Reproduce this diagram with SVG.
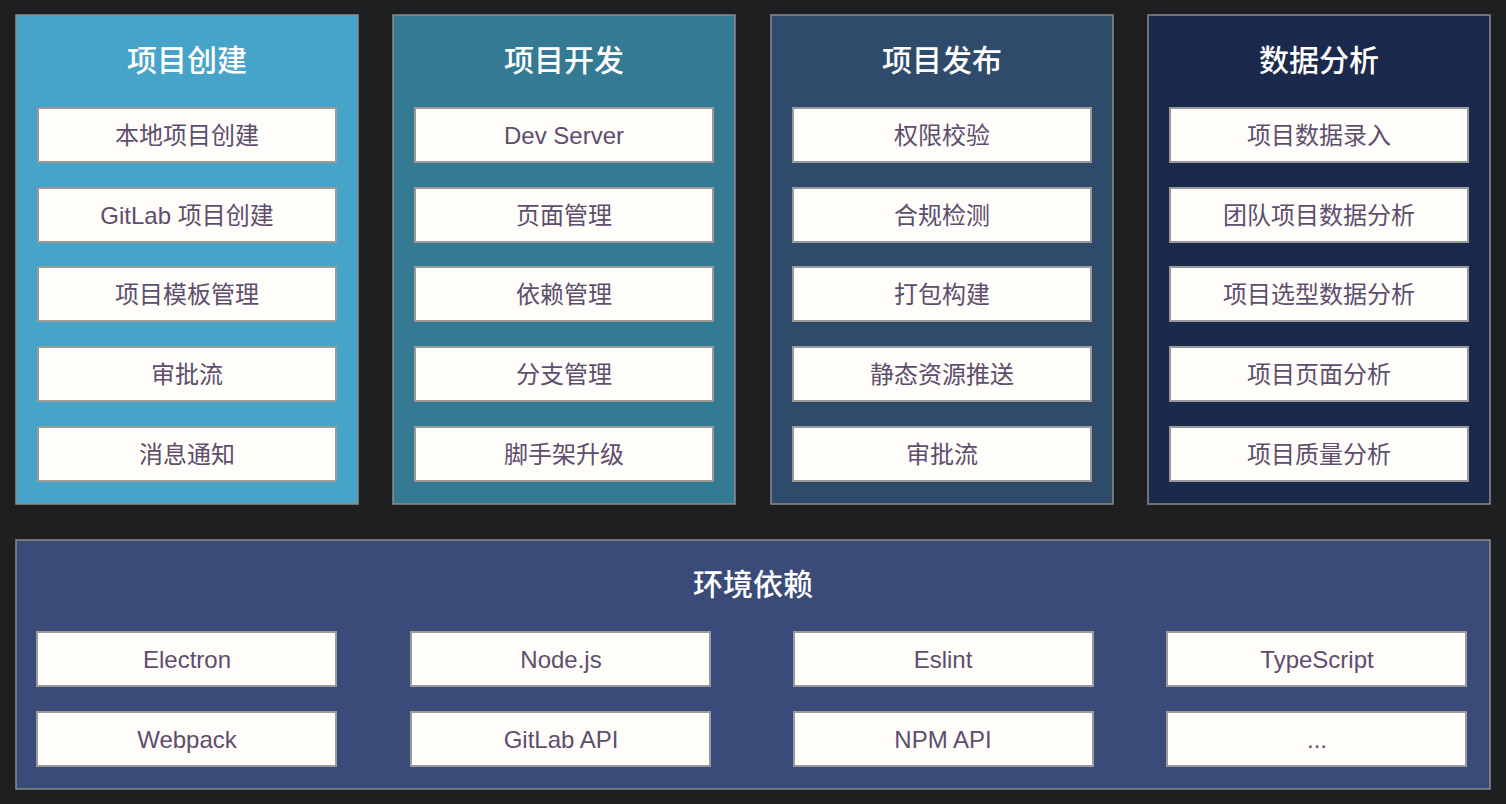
<svg xmlns="http://www.w3.org/2000/svg" width="1506" height="804" viewBox="0 0 1506 804">
<style>
.panel{stroke:#8c8c8c;stroke-width:1.5}
.item{fill:#fefdf9;stroke:#9a9a9a;stroke-width:2}
.title{font-family:"Noto Sans CJK SC","Noto Sans",sans-serif;font-size:30px;font-weight:500;fill:#ffffff;text-anchor:middle}
.label{font-family:"Liberation Sans","Noto Sans CJK SC",sans-serif;font-size:24px;fill:#5d4e6d;text-anchor:middle;dominant-baseline:central}
</style>
<rect x="0" y="0" width="1506" height="804" fill="#1e1f21"/>
<g id="col1">
<rect class="panel" x="16" y="15" width="342" height="489" fill="#47a4c9"/>
<text class="title" x="187" y="71">项目创建</text>
<rect class="item" x="38" y="108" width="298" height="54"/><text class="label" x="187" y="135">本地项目创建</text>
<rect class="item" x="38" y="188" width="298" height="54"/><text class="label" x="187" y="215">GitLab 项目创建</text>
<rect class="item" x="38" y="267" width="298" height="54"/><text class="label" x="187" y="294">项目模板管理</text>
<rect class="item" x="38" y="347" width="298" height="54"/><text class="label" x="187" y="374">审批流</text>
<rect class="item" x="38" y="427" width="298" height="54"/><text class="label" x="187" y="454">消息通知</text>
</g>
<g id="col2">
<rect class="panel" x="393" y="15" width="342" height="489" fill="#347a92"/>
<text class="title" x="564" y="71">项目开发</text>
<rect class="item" x="415" y="108" width="298" height="54"/><text class="label" x="564" y="135">Dev Server</text>
<rect class="item" x="415" y="188" width="298" height="54"/><text class="label" x="564" y="215">页面管理</text>
<rect class="item" x="415" y="267" width="298" height="54"/><text class="label" x="564" y="294">依赖管理</text>
<rect class="item" x="415" y="347" width="298" height="54"/><text class="label" x="564" y="374">分支管理</text>
<rect class="item" x="415" y="427" width="298" height="54"/><text class="label" x="564" y="454">脚手架升级</text>
</g>
<g id="col3">
<rect class="panel" x="771" y="15" width="342" height="489" fill="#2e4b6c"/>
<text class="title" x="942" y="71">项目发布</text>
<rect class="item" x="793" y="108" width="298" height="54"/><text class="label" x="942" y="135">权限校验</text>
<rect class="item" x="793" y="188" width="298" height="54"/><text class="label" x="942" y="215">合规检测</text>
<rect class="item" x="793" y="267" width="298" height="54"/><text class="label" x="942" y="294">打包构建</text>
<rect class="item" x="793" y="347" width="298" height="54"/><text class="label" x="942" y="374">静态资源推送</text>
<rect class="item" x="793" y="427" width="298" height="54"/><text class="label" x="942" y="454">审批流</text>
</g>
<g id="col4">
<rect class="panel" x="1148" y="15" width="342" height="489" fill="#1b294d"/>
<text class="title" x="1319" y="71">数据分析</text>
<rect class="item" x="1170" y="108" width="298" height="54"/><text class="label" x="1319" y="135">项目数据录入</text>
<rect class="item" x="1170" y="188" width="298" height="54"/><text class="label" x="1319" y="215">团队项目数据分析</text>
<rect class="item" x="1170" y="267" width="298" height="54"/><text class="label" x="1319" y="294">项目选型数据分析</text>
<rect class="item" x="1170" y="347" width="298" height="54"/><text class="label" x="1319" y="374">项目页面分析</text>
<rect class="item" x="1170" y="427" width="298" height="54"/><text class="label" x="1319" y="454">项目质量分析</text>
</g>
<g id="env">
<rect class="panel" x="16" y="540" width="1474" height="249" fill="#3a4a79"/>
<text class="title" x="753" y="595">环境依赖</text>
<rect class="item" x="37" y="632" width="299" height="54"/><text class="label" x="187" y="659">Electron</text>
<rect class="item" x="411" y="632" width="299" height="54"/><text class="label" x="561" y="659">Node.js</text>
<rect class="item" x="794" y="632" width="299" height="54"/><text class="label" x="943" y="659">Eslint</text>
<rect class="item" x="1167" y="632" width="299" height="54"/><text class="label" x="1317" y="659">TypeScript</text>
<rect class="item" x="37" y="712" width="299" height="54"/><text class="label" x="187" y="739">Webpack</text>
<rect class="item" x="411" y="712" width="299" height="54"/><text class="label" x="561" y="739">GitLab API</text>
<rect class="item" x="794" y="712" width="299" height="54"/><text class="label" x="943" y="739">NPM API</text>
<rect class="item" x="1167" y="712" width="299" height="54"/><text class="label" x="1317" y="739">...</text>
</g>
<g id="connectors"/>
</svg>
